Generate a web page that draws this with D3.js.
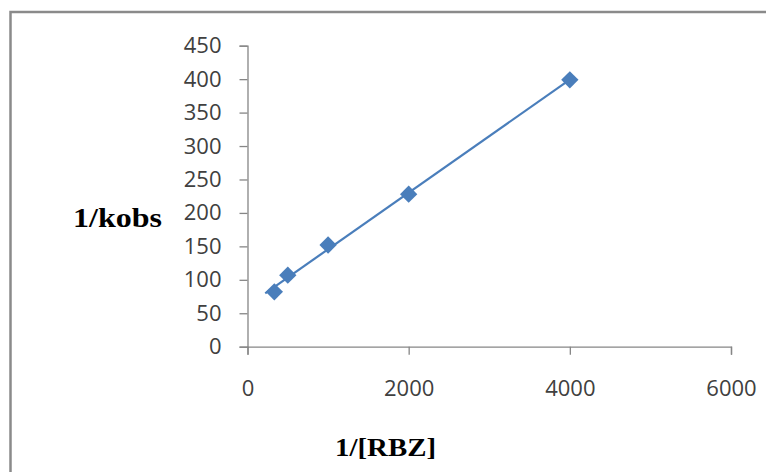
<!DOCTYPE html>
<html>
<head>
<meta charset="utf-8">
<script src="https://cdn.jsdelivr.net/npm/d3@7"></script>
<style>
  html, body { margin: 0; padding: 0; background: #fff; }
  .tick text { font-family: "Open Sans", sans-serif; font-size: 22px; fill: #404040; }
  .axis path, .axis line { stroke: #868686; stroke-width: 1.3; }
  .title { font-family: "Liberation Serif", "Times New Roman", serif; font-weight: bold; fill: #000; }
</style>
</head>
<body>
<div class="my_chart"></div>
<script>
// values
const xValues = [333, 500, 1000, 2000, 4000]
const yValues = [82, 107, 152, 228, 399]
const xTicks = [0, 2000, 4000, 6000]
const yTicks = [0, 50, 100, 150, 200, 250, 300, 350, 400, 450]
const trendRange = [220, 4000]

const width = 766, height = 472

let svg = d3.select(".my_chart")
            .append("svg")
            .attr("width", width)
            .attr("height", height)

// chart frame (only top and left edge fall inside the picture)
svg.append("rect")
   .attr("x", 10.5)
   .attr("y", 12)
   .attr("width", 820)
   .attr("height", 520)
   .attr("fill", "#fff")
   .attr("stroke", "#8a8a8a")
   .attr("stroke-width", 2.5)

let x = d3.scaleLinear()
          .domain([0, 6000])
          .range([247.5, 731])

let y = d3.scaleLinear()
          .domain([0, 450])
          .range([346.7, 45.7])

svg.append("g")
   .attr("class", "axis")
   .attr("transform", "translate(0," + y(0) + ")")
   .call(d3.axisBottom(x).tickValues(xTicks).tickSize(8).tickPadding(26).tickFormat(d3.format("d")))

svg.append("g")
   .attr("class", "axis")
   .attr("transform", "translate(" + x(0) + ",0)")
   .call(d3.axisLeft(y).tickValues(yTicks).tickSize(8).tickPadding(18).tickFormat(d3.format("d")))

// least squares trendline through the points
const n = xValues.length
const mx = d3.mean(xValues), my = d3.mean(yValues)
const slope = d3.sum(xValues, (v, i) => (v - mx) * (yValues[i] - my)) / d3.sum(xValues, v => (v - mx) * (v - mx))
const icpt = my - slope * mx

svg.append("path")
   .datum(trendRange)
   .attr("fill", "none")
   .attr("stroke", "#4a7ebb")
   .attr("stroke-width", 2.2)
   .attr("d", d3.line().x(d => x(d)).y(d => y(icpt + slope * d)))

const diamond = d3.symbol(d3.symbolSquare, 150)

svg.append("g")
   .selectAll("path")
   .data(xValues)
   .enter()
   .append("path")
   .attr("d", diamond)
   .attr("transform", (d, i) => "translate(" + x(d) + "," + y(yValues[i]) + ") rotate(45)")
   .attr("fill", "#4a7ebb")

svg.append("text")
   .attr("class", "title")
   .attr("x", 73)
   .attr("y", 227)
   .attr("font-size", 27)
   .attr("textLength", 89)
   .attr("lengthAdjust", "spacingAndGlyphs")
   .text("1/kobs")

svg.append("text")
   .attr("class", "title")
   .attr("x", 335)
   .attr("y", 456)
   .attr("font-size", 25)
   .attr("textLength", 101)
   .attr("lengthAdjust", "spacingAndGlyphs")
   .text("1/[RBZ]")
</script>
</body>
</html>
